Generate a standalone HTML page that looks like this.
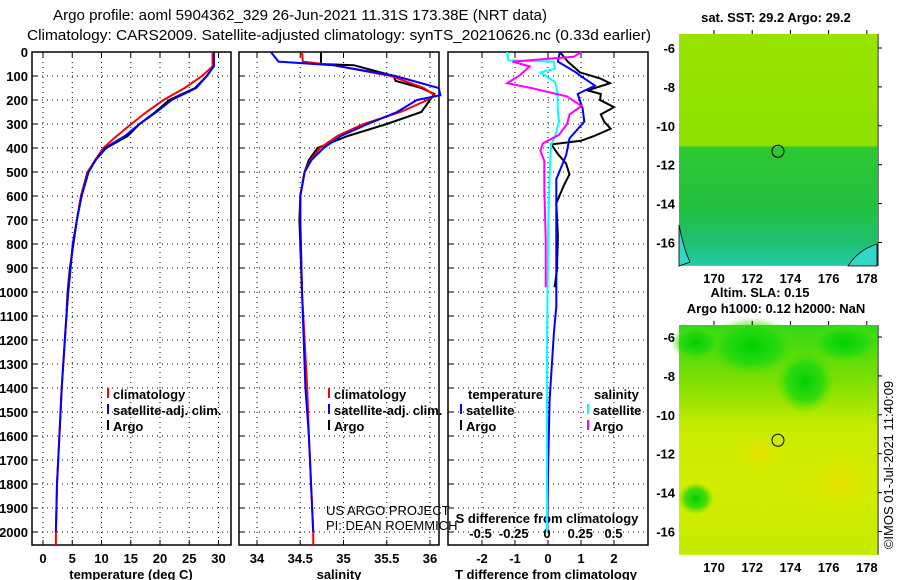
<!DOCTYPE html>
<html><head><meta charset="utf-8"><style>
body{margin:0;background:#fff;}
svg{display:block;font-family:"Liberation Sans",sans-serif;}
.b{font-weight:bold;font-size:13px;}
</style></head><body>
<svg id="s" width="900" height="580" viewBox="0 0 900 580">
<defs>
<linearGradient id="g1" x1="0" y1="0" x2="0" y2="1">
<stop offset="0" stop-color="#98e400"/><stop offset="0.48" stop-color="#8fe000"/>
<stop offset="0.49" stop-color="#2cc832"/><stop offset="0.75" stop-color="#22c040"/>
<stop offset="0.9" stop-color="#20c070"/><stop offset="1" stop-color="#22cca8"/>
</linearGradient>
<linearGradient id="g2" x1="0" y1="0" x2="0" y2="1">
<stop offset="0" stop-color="#30d818"/><stop offset="0.25" stop-color="#80e000"/>
<stop offset="0.45" stop-color="#c8ec00"/><stop offset="0.7" stop-color="#d4ec00"/><stop offset="1" stop-color="#c4ec00"/>
</linearGradient>
<radialGradient id="gb1"><stop offset="0" stop-color="#00d000"/><stop offset="0.6" stop-color="#20d810" stop-opacity="0.8"/><stop offset="1" stop-color="#60e000" stop-opacity="0"/></radialGradient>
<radialGradient id="gy"><stop offset="0" stop-color="#e8e000"/><stop offset="1" stop-color="#e0e800" stop-opacity="0"/></radialGradient>
</defs>
<text x="53" y="20" font-size="15" textLength="494" lengthAdjust="spacingAndGlyphs">Argo profile: aoml 5904362_329 26-Jun-2021 11.31S 173.38E (NRT data)</text>
<text x="27" y="40" font-size="15" textLength="624" lengthAdjust="spacingAndGlyphs">Climatology: CARS2009. Satellite-adjusted climatology: synTS_20210626.nc (0.33d earlier)</text>
<g id="plots"></g>
<g id="maps"></g>
</svg>
<script>
// ---- data ----
const depthT = [0,60,100,150,200,250,300,350,400,450,500,600,700,800,900,1000,1100,1400,1600,1800,2000];
const tempClim = [29.0,29.0,27.2,24.2,20.6,17.7,15.1,12.6,10.3,8.9,7.7,6.5,5.8,5.1,4.7,4.3,4.0,3.2,2.8,2.4,2.2];
const tempSat  = [29.2,29.2,28.0,26.2,22.0,19.4,16.5,14.0,10.6,9.0,7.8,6.6,5.8,5.1,4.7,4.3,4.0,3.2,2.8,2.4,2.2];
const tempArgo = [29.2,29.2,28.0,26.0,21.6,19.2,16.5,14.5,10.8,9.0,7.6,6.5,5.8,5.2,4.6,4.2,4.0];
const depthS = [0,40,55,100,150,180,200,250,300,350,400,450,500,600,700,1000,1400,1600,2000];
const salClim = [34.52,34.53,34.88,35.55,35.93,36.05,35.97,35.66,35.23,34.93,34.73,34.62,34.55,34.5,34.5,34.52,34.58,34.6,34.65];
const salSat  = [34.16,34.25,34.88,35.6,36.1,36.12,35.85,35.62,35.28,34.97,34.77,34.63,34.55,34.5,34.5,34.52,34.56,34.6,34.65];
const depthSA = [0,50,55,100,120,150,175,200,250,300,350,400,450,500,600,700,1000];
const salArgo = [34.74,34.74,35.12,35.58,35.6,35.9,36.05,36.0,35.9,35.5,35.05,34.7,34.6,34.55,34.5,34.49,34.52];
const depthDT = [0,40,85,110,130,160,175,200,230,260,290,320,350,370,385,425,465,510,550,630,770,910,980];
const dTArgo = [0.36,0.6,0.97,1.58,1.88,1.2,1.6,1.58,2.0,1.6,1.7,1.9,1.4,1.0,0.1,0.3,0.55,0.65,0.5,0.25,0.3,0.27,0.2];
const depthDTs = [0,40,85,110,140,175,235,290,360,430,530,780,1060,1170,1450,1750,2000];
const dTSat = [0.36,0.3,0.85,1.1,1.42,0.9,1.05,1.1,0.65,0.55,0.25,0.25,0.25,0.18,0.05,0.0,-0.02];
const depthDS = [0,35,40,70,85,125,165,235,290,350,390,500,710,1190,1500,2000];
const dSSat = [-0.30,-0.29,0.05,0.06,-0.05,0.06,0.08,0.08,0.09,0.06,0.03,0.02,0.01,0.0,0.0,0.0];
const depthDSA = [0,20,40,60,95,130,150,185,225,260,300,345,380,410,455,570,780,980];
const dSArgo = [0.26,0.2,-0.26,-0.13,-0.2,-0.3,-0.12,0.15,0.26,0.17,0.15,0.09,-0.03,-0.05,-0.02,-0.02,-0.01,-0.01];
const depthTicks = [0,100,200,300,400,500,600,700,800,900,1000,1100,1200,1300,1400,1500,1600,1700,1800,1900,2000];
const tTicks = [0,5,10,15,20,25,30];
const sTicks = [34,34.5,35,35.5,36];
const dtTicks = [-2,-1,0,1,2];
const dsTicks = [-0.5,-0.25,0,0.25,0.5];
const lonTicks = [170,172,174,176,178];
const latTicks = [-6,-8,-10,-12,-14,-16];

const NS='http://www.w3.org/2000/svg';
function mk(tag,attrs,parent,txt){const e=document.createElementNS(NS,tag);for(const k in attrs)e.setAttribute(k,attrs[k]);if(txt!==undefined)e.textContent=txt;parent.appendChild(e);return e;}
const P=document.getElementById('plots'), M=document.getElementById('maps');
const yD = d => 52 + d*0.24;
const xT = t => 43 + t*5.85;
const xS = s => 257 + (s-34)*86.5;
const xDT = v => 548 + v*33;
const xDS = v => 547 + v*133;

const panels=[{x0:32,x1:231,name:'temperature-panel'},{x0:239,x1:439,name:'salinity-panel'},{x0:448,x1:648,name:'difference-panel'}];
const vgrid=[tTicks.map(xT), sTicks.map(xS), dtTicks.map(xDT)];
panels.forEach((p,i)=>{
  const g=mk('g',{},P);
  
  
  depthTicks.forEach(d=>{ if(d>0){const l=mk('line',{x1:p.x0,x2:p.x1,y1:yD(d),y2:yD(d),stroke:'#000','stroke-dasharray':'1,4','stroke-width':1},g);  }
    mk('line',{x1:p.x0,x2:p.x0+5,y1:yD(d),y2:yD(d),stroke:'#000'},g);});
  vgrid[i].forEach(x=>{const l=mk('line',{x1:x,x2:x,y1:52,y2:545,stroke:'#000','stroke-dasharray':'1,4'},g);  
    mk('line',{x1:x,x2:x,y1:52,y2:57,stroke:'#000'},g);mk('line',{x1:x,x2:x,y1:540,y2:545,stroke:'#000'},g);});
  const r=mk('rect',{x:p.x0,y:52,width:p.x1-p.x0,height:493,fill:'none',stroke:'#000','stroke-width':1.5},g);
   
});
depthTicks.forEach(d=>{const t=mk('text',{x:28,y:yD(d)+5,'text-anchor':'end',class:'b'},P,String(d));
   });
tTicks.forEach(v=>{const t=mk('text',{x:xT(v),y:563,'text-anchor':'middle',class:'b'},P,String(v));  });
sTicks.forEach(v=>{const t=mk('text',{x:xS(v),y:563,'text-anchor':'middle',class:'b'},P,String(v));  });
dtTicks.forEach(v=>{const t=mk('text',{x:xDT(v),y:563,'text-anchor':'middle',class:'b'},P,String(v));  });
dsTicks.forEach(v=>{const t=mk('text',{x:xDS(v),y:538,'text-anchor':'middle',class:'b'},P,String(v));  });
[[131,'temperature (deg C)','temperature-axis-title'],[339,'salinity','salinity-axis-title'],[546,'T difference from climatology','dt-axis-title']].forEach(a=>{
  const t=mk('text',{x:a[0],y:579,'text-anchor':'middle',class:'b'},P,a[1]);  });
{const t=mk('text',{x:547,y:523,'text-anchor':'middle',class:'b'},P,'S difference from climatology');  }

function line(xs,ds,xf,color,name){
  const pts=xs.map((v,i)=>xf(v).toFixed(1)+','+yD(ds[i]).toFixed(1)).join(' ');
  const l=mk('polyline',{points:pts,fill:'none',stroke:color,'stroke-width':2},P);
  
  
}
line(tempArgo,depthT.slice(0,tempArgo.length),xT,'#000','temp-argo-line');
line(tempClim,depthT,xT,'#f00','temp-climatology-line');
line(tempSat,depthT,xT,'#00f','temp-satellite-line');
{mk('line',{x1:xT(2.2),x2:xT(2.2),y1:yD(2000),y2:545,stroke:'#f00','stroke-width':2},P);}
line(salArgo,depthSA,xS,'#000','sal-argo-line');
line(salClim,depthS,xS,'#f00','sal-climatology-line');
line(salSat,depthS,xS,'#00f','sal-satellite-line');
{mk('line',{x1:xS(34.65),x2:xS(34.65),y1:yD(2000),y2:545,stroke:'#f00','stroke-width':2},P);}
line(dTArgo,depthDT,xDT,'#000','dt-argo-line');
line(dTSat,depthDTs,xDT,'#00f','dt-satellite-line');
line(dSSat,depthDS,xDS,'#0ff','ds-satellite-line');
line(dSArgo,depthDSA,xDS,'#f0f','ds-argo-line');

function legend(x,y,color,label,name){
  mk('line',{x1:x,x2:x,y1:y-11,y2:y-1,stroke:color,'stroke-width':2},P);
  const t=mk('text',{x:x+5,y:y,class:'b'},P,label);
  
  
}
legend(108,399,'#f00','climatology','legend-climatology');
legend(108,415,'#00f','satellite-adj. clim.','legend-satellite-adj');
legend(108,431,'#000','Argo','legend-argo');
legend(329,399,'#f00','climatology','legend2-climatology');
legend(329,415,'#00f','satellite-adj. clim.','legend2-satellite-adj');
legend(329,431,'#000','Argo','legend2-argo');
{const t=mk('text',{x:468,y:399,class:'b'},P,'temperature');  }
{const t=mk('text',{x:594,y:399,class:'b'},P,'salinity');  }
legend(461,415,'#00f','satellite','legend-dt-satellite');
legend(461,431,'#000','Argo','legend-dt-argo');
legend(588,415,'#0ff','satellite','legend-ds-satellite');
legend(588,431,'#f0f','Argo','legend-ds-argo');
{const t=mk('text',{x:326,y:515,'font-size':'13'},P,'US ARGO PROJECT');  }
{const t=mk('text',{x:326,y:530,'font-size':'13'},P,'PI: DEAN ROEMMICH');  }

// ---- maps ----
const xLon = lon => 714 + (lon-170)*19.1;
function drawMap(top,lat6,fill,name,extra){
  const g=mk('g',{},M);
  
  
  const yLat = lat => lat6 + (-6-lat)*19.45;
  const h = yLat(-17.2)-top;
  mk('rect',{x:679,y:top,width:198,height:h,fill:fill},g);
  if(extra) extra(g,yLat);
  mk('circle',{cx:xLon(173.35),cy:yLat(-11.31),r:6,fill:'none',stroke:'#000','stroke-width':1},g);
  mk('line',{x1:878,x2:878,y1:top,y2:top+h,stroke:'#000'},g);
  lonTicks.forEach(l=>{mk('line',{x1:xLon(l),x2:xLon(l),y1:top,y2:top-4,stroke:'#000'},g);
    const t=mk('text',{x:xLon(l),y:top+h+17,'text-anchor':'middle',class:'b'},g,String(l));  });
  latTicks.forEach(l=>{mk('line',{x1:878,x2:882,y1:yLat(l),y2:yLat(l),stroke:'#000'},g);
    const t=mk('text',{x:675,y:yLat(l)+5,'text-anchor':'end',class:'b'},g,String(l));  });
}
drawMap(34,48,'url(#g1)','sst-map',(g,yL)=>{
  mk('path',{d:'M679 225 Q684 250 690 262 L679 266 Z',fill:'#30d8c8',stroke:'#000','stroke-width':0.8},g);
  mk('path',{d:'M848 266 Q858 250 877 244 L877 266 Z',fill:'#30d8c8',stroke:'#000','stroke-width':0.8},g);
});
drawMap(325,337,'url(#g2)','sla-map',(g,yL)=>{
  mk('ellipse',{cx:752,cy:yL(-6.5),rx:45,ry:30,fill:'url(#gb1)'},g);
  mk('ellipse',{cx:805,cy:yL(-8.3),rx:30,ry:32,fill:'url(#gb1)'},g);
  mk('ellipse',{cx:845,cy:yL(-6.3),rx:35,ry:20,fill:'url(#gb1)'},g);
  mk('ellipse',{cx:696,cy:yL(-6.3),rx:25,ry:18,fill:'url(#gb1)'},g);
  mk('ellipse',{cx:696,cy:yL(-14.3),rx:18,ry:16,fill:'url(#gb1)'},g);
  mk('ellipse',{cx:760,cy:yL(-12),rx:25,ry:18,fill:'url(#gy)'},g);
  mk('ellipse',{cx:840,cy:yL(-13.5),rx:35,ry:30,fill:'url(#gy)'},g);
});
[[776,22,'sat. SST: 29.2 Argo: 29.2','sst-map-title'],[760,297,'Altim. SLA: 0.15','sla-title'],[776,313,'Argo h1000: 0.12 h2000: NaN','argo-height-title']].forEach(a=>{
  const t=mk('text',{x:a[0],y:a[1],'text-anchor':'middle',class:'b'},M,a[2]);  });
{const t=mk('text',{x:0,y:0,'font-size':'13',transform:'translate(893,465) rotate(-90)','text-anchor':'middle'},M,'©IMOS 01-Jul-2021 11:40:09');  }
</script>
</body></html>
